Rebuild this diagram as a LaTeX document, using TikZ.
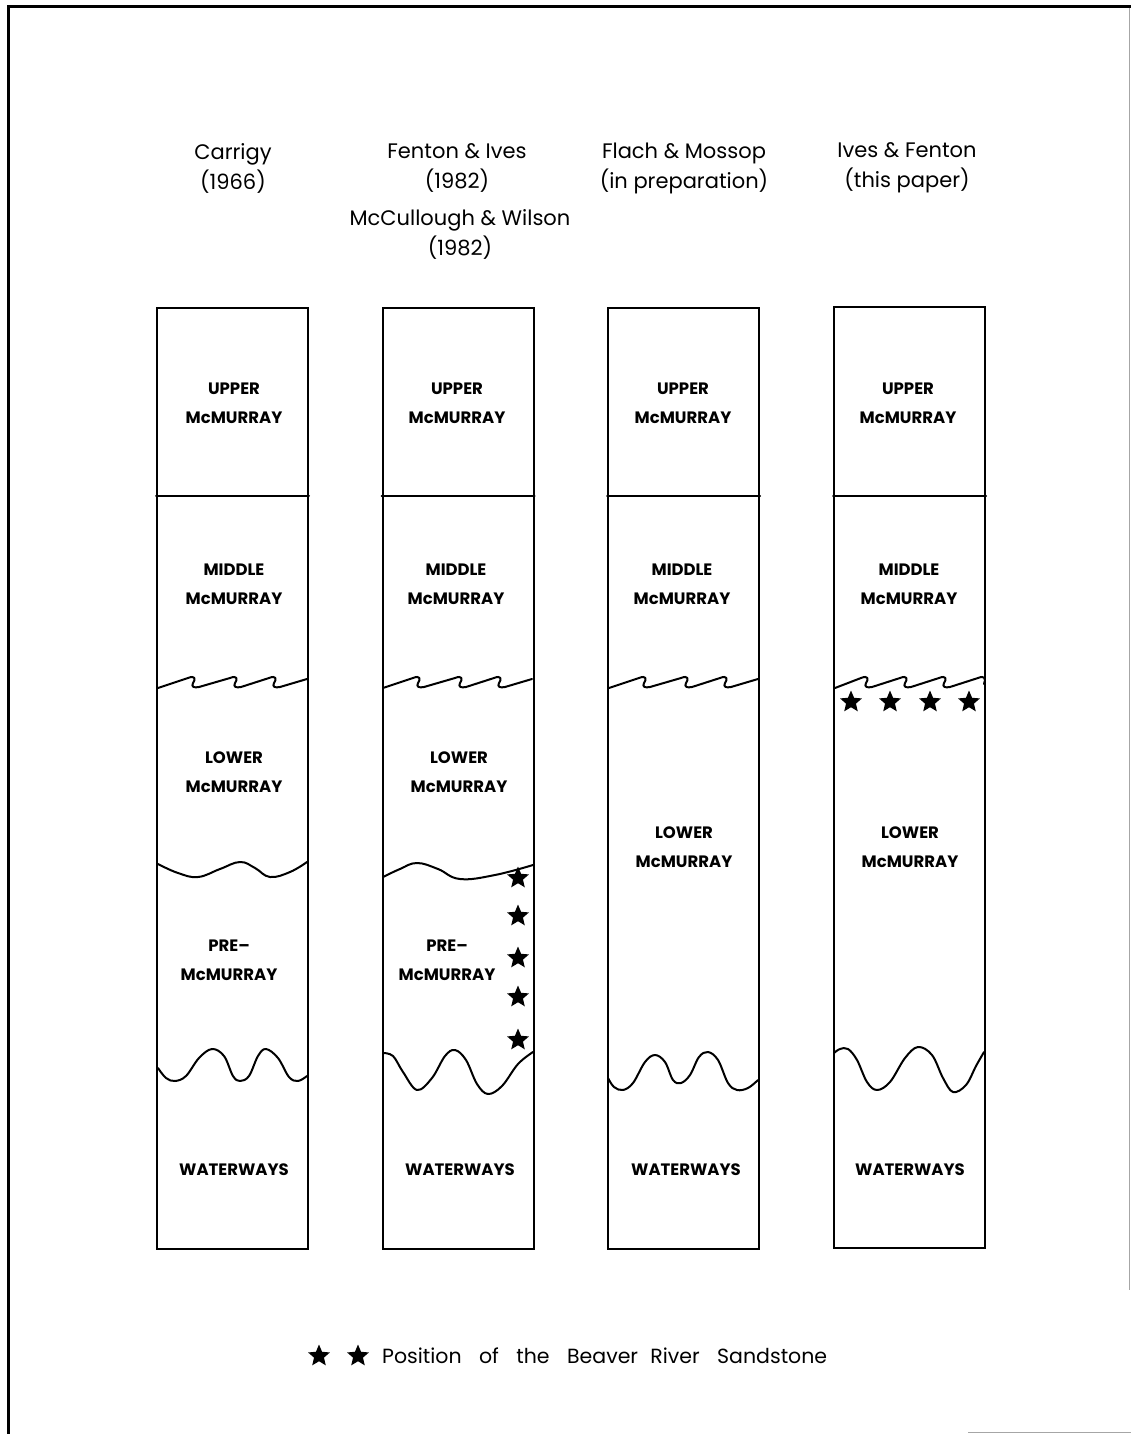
\documentclass[tikz,border=0pt]{standalone}
\usepackage{fontspec}
\setmainfont{Poppins}
\usetikzlibrary{shapes.geometric}

\tikzset{
  colbox/.style={draw, line width=2pt, minimum width=151pt, minimum height=941pt, inner sep=0pt},
  contact/.style={line width=2pt, line join=round, line cap=round},
  bed/.style={font=\fontsize{16.5}{29}\selectfont\bfseries, align=center, inner sep=0pt},
  hdr/.style={font=\fontsize{21}{30}\selectfont, align=center, inner sep=0pt},
  bstar/.style={star, star points=5, star point ratio=2.2, fill=black, inner sep=0pt, minimum size=23pt},
}

\begin{document}
\begin{tikzpicture}[x=1pt, y=-1pt]
\useasboundingbox (0,0) rectangle (1131,1434);

% sheet frame
\draw[line width=3pt] (8,1434) -- (8,7) -- (1131,7);
\draw[line width=1pt, gray!70] (1129.5,8) -- (1129.5,1290);
\draw[line width=1pt, gray!70] (968,1432) -- (1131,1432);

% column headings
\node[hdr] (h1) at (233,168) {Carrigy\\(1966)};
\node[hdr] (h2a) at (457,168) {Fenton \& Ives\\(1982)};
\node[hdr] (h2b) at (460,234) {McCullough \& Wilson\\(1982)};
\node[hdr] (h3) at (684,168) {Flach \& Mossop\\(in preparation)};
\node[hdr] (h4) at (907,168) {Ives \& Fenton\\(this paper)};

% stratigraphic columns
\node[colbox] (c1) at (232.5,778.5) {};
\node[colbox] (c2) at (458,778.5) {};
\node[colbox] (c3) at (683.5,778) {};
\node[colbox] (c4) at (909.5,777) {};

% upper / middle McMurray boundary
\foreach \c in {c1,c2,c3,c4}
  \draw[contact] (\c.west |- 0,496) -- (\c.east |- 0,496);

% middle / lower McMurray unconformity (columns 1-3)
\foreach \dx in {0,225,451}{
  \begin{scope}[xshift=\dx]
  \draw[contact] (158,688) -- (188,678)
    .. controls (195,675) and (196,679) .. (193,683)
    .. controls (191,687) and (194,688) .. (199,687) -- (230,678)
    .. controls (237,675) and (238,679) .. (235,683)
    .. controls (233,687) and (236,688) .. (241,687) -- (269,678)
    .. controls (276,675) and (277,679) .. (274,683)
    .. controls (272,687) and (275,688) .. (280,687) -- (307,679);
  \end{scope}
}
% column 4
\draw[contact] (835,688) -- (861,678)
  .. controls (868,675) and (869,679) .. (866,683)
  .. controls (864,687) and (867,688) .. (872,687) -- (900,678)
  .. controls (907,675) and (908,679) .. (905,683)
  .. controls (903,687) and (906,688) .. (911,687) -- (939,678)
  .. controls (946,675) and (947,679) .. (944,683)
  .. controls (942,687) and (945,688) .. (950,687) -- (978,678)
  .. controls (985,675) and (986,679) .. (984,684);

% lower McMurray / pre-McMurray contact
\draw[contact] plot[smooth, tension=0.7] coordinates {(158,864) (178,873) (198,877) (220,869) (240,862) (255,868) (270,877) (290,872) (307,862)};
\draw[contact] plot[smooth, tension=0.7] coordinates {(383,877) (400,869) (417,863) (438,869) (460,879) (495,875) (533,865)};

% sub-Cretaceous unconformity on the Waterways
\draw[contact] plot[smooth, tension=0.6] coordinates {(158,1068) (166,1078) (175,1081) (186,1076) (199,1058) (212,1049) (224,1056) (233,1076) (240,1081) (249,1076) (258,1056) (266,1049) (278,1058) (289,1077) (298,1081) (307,1076)};
\draw[contact] plot[smooth, tension=0.6] coordinates {(383,1053) (393,1056) (403,1072) (417,1090) (432,1078) (445,1056) (455,1050) (466,1060) (477,1084) (488,1094) (502,1086) (518,1064) (533,1052)};
\draw[contact] plot[smooth, tension=0.6] coordinates {(608,1078) (614,1087) (623,1090) (633,1083) (645,1062) (655,1055) (665,1062) (673,1080) (681,1083) (690,1075) (699,1057) (708,1052) (718,1060) (728,1083) (737,1090) (748,1088) (758,1080)};
\draw[contact] plot[smooth, tension=0.6] coordinates {(834,1053) (840,1049) (848,1049) (857,1060) (867,1082) (877,1090) (890,1082) (905,1058) (918,1047) (932,1055) (943,1078) (953,1092) (966,1085) (976,1066) (984,1052)};

% bed names
\node[bed] (u1) at (234,403) {UPPER\\McMURRAY};
\node[bed] (m1) at (234,584) {MIDDLE\\McMURRAY};
\node[bed] (l1) at (234,772) {LOWER\\McMURRAY};
\node[bed] (p1) at (229,960) {PRE\textendash\\McMURRAY};
\node[bed] (w1) at (234,1170) {WATERWAYS};

\node[bed] (u2) at (457,403) {UPPER\\McMURRAY};
\node[bed] (m2) at (456,584) {MIDDLE\\McMURRAY};
\node[bed] (l2) at (459,772) {LOWER\\McMURRAY};
\node[bed] (p2) at (447,960) {PRE\textendash\\McMURRAY};
\node[bed] (w2) at (460,1170) {WATERWAYS};

\node[bed] (u3) at (683,403) {UPPER\\McMURRAY};
\node[bed] (m3) at (682,584) {MIDDLE\\McMURRAY};
\node[bed] (l3) at (684,847) {LOWER\\McMURRAY};
\node[bed] (w3) at (686,1170) {WATERWAYS};

\node[bed] (u4) at (908,403) {UPPER\\McMURRAY};
\node[bed] (m4) at (909,584) {MIDDLE\\McMURRAY};
\node[bed] (l4) at (910,847) {LOWER\\McMURRAY};
\node[bed] (w4) at (910,1170) {WATERWAYS};

% Beaver River Sandstone positions
\foreach \y [count=\i] in {878,916,958,997,1040}
  \node[bstar] (s2\i) at (518,\y) {};
\foreach \x [count=\i] in {851,890,930,969}
  \node[bstar] (s4\i) at (\x,702) {};

% legend
\node[bstar] (k1) at (319,1356) {};
\node[bstar] (k2) at (358,1356) {};
\node[font=\fontsize{20.5}{22}\selectfont, anchor=west, inner sep=0pt] (key) at (382,1356)
  {Position\hspace{0.85em}of\hspace{0.85em}the\hspace{0.85em}Beaver\hspace{0.6em}River\hspace{0.85em}Sandstone};
\end{tikzpicture}
\end{document}
